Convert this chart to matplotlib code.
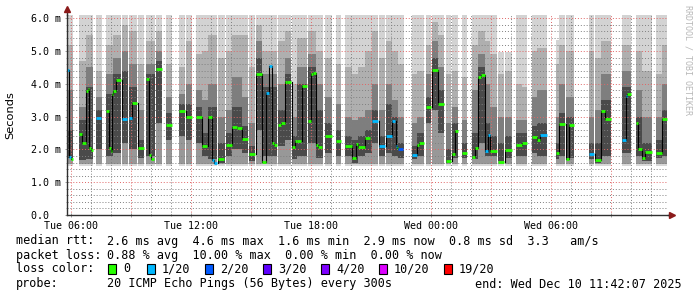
import numpy as np
import matplotlib.pyplot as plt
from matplotlib.ticker import MultipleLocator, FuncFormatter
from matplotlib.patches import Rectangle

# =====================================================================
# Data (hours since Tue 00:00, rtt in ms)
# =====================================================================
# smoke columns (periods with data)
strip_start = [5.80, 6.40, 6.75, 7.24, 7.74, 8.12, 8.54, 8.90, 9.37, 9.74,
               10.25, 10.75, 11.40, 11.74, 12.24, 12.55, 12.84, 13.37, 13.74, 14.04,
               14.54, 14.90, 15.25, 15.54, 16.37, 16.70, 17.04, 17.32, 17.87, 18.25,
               18.70, 19.24, 19.70, 20.04, 20.37, 20.70, 21.04, 21.40, 21.74, 22.04,
               22.37, 23.04, 23.29, 23.74, 24.04, 24.37, 24.74, 25.04, 25.54, 26.04,
               26.37, 26.70, 26.95, 27.37, 27.70, 28.24, 28.54, 29.04, 29.29, 30.24,
               30.38, 30.74, 31.90, 32.20, 32.50, 33.54, 34.24, 34.54, 35.24, 35.54]
strip_end = [6.10, 6.75, 7.12, 7.57, 8.12, 8.49, 8.87, 9.32, 9.67, 10.20,
             10.54, 11.04, 11.70, 12.04, 12.54, 12.84, 13.32, 13.70, 14.04, 14.54,
             14.84, 15.20, 15.54, 16.30, 16.70, 17.00, 17.32, 17.79, 18.25, 18.62,
             19.04, 19.50, 20.04, 20.37, 20.70, 21.04, 21.37, 21.70, 22.04, 22.37,
             22.67, 23.29, 23.67, 24.00, 24.34, 24.67, 25.00, 25.37, 25.82, 26.37,
             26.70, 26.95, 27.29, 27.67, 28.04, 28.54, 28.82, 29.29, 29.82, 30.38,
             30.70, 31.15, 32.17, 32.50, 33.00, 34.00, 34.54, 35.04, 35.54, 35.80]
# smoke levels per column: max, upper light/mid, mid/dark, dark band top, dark band bottom
smoke_max = [6.1, 6.1, 6.1, 6.1, 6.1, 6.1, 6.1, 6.1, 6.1, 6.1,
             6.1, 6.1, 6.1, 6.1, 6.1, 6.1, 6.1, 6.1, 6.1, 6.1,
             6.1, 6.1, 6.1, 6.1, 6.1, 6.1, 6.1, 6.1, 6.1, 6.1,
             6.1, 6.1, 6.1, 6.1, 6.1, 6.1, 6.1, 6.1, 6.1, 6.1,
             6.1, 6.1, 6.1, 6.1, 6.1, 6.1, 6.1, 6.1, 6.1, 6.1,
             6.1, 6.1, 6.1, 4.97, 4.97, 6.1, 6.1, 6.1, 6.1, 5.34,
             6.1, 6.1, 6.1, 6.1, 6.1, 6.1, 6.1, 6.1, 6.1, 6.1]
smoke_p90 = [5.2, 4.7, 5.5, 4.4, 5.2, 5.5, 5.8, 5.6, 4.6, 5.3,
             5.6, 4.6, 4.5, 5.3, 4.9, 5.0, 5.5, 4.8, 5.0, 5.5,
             5.5, 4.5, 5.8, 5.0, 5.3, 5.6, 4.0, 5.4, 5.6, 5.0,
             4.8, 4.6, 4.5, 4.3, 4.5, 5.0, 5.6, 4.8, 5.3, 5.0,
             4.6, 4.3, 4.4, 5.2, 5.9, 5.5, 4.3, 4.4, 4.2, 5.2,
             5.6, 5.3, 4.9, 4.3, 4.4, 4.0, 3.9, 5.0, 5.1, 4.6,
             5.2, 5.0, 5.0, 4.8, 5.3, 5.2, 5.0, 4.4, 4.3, 5.2]
smoke_p75 = [3.8, 3.3, 4.5, 3.6, 4.3, 4.8, 5.0, 4.6, 3.2, 4.6,
             5.0, 3.6, 3.7, 4.0, 3.8, 3.5, 4.0, 3.0, 3.2, 4.2,
             3.6, 2.8, 5.3, 4.3, 4.0, 4.8, 3.0, 4.5, 4.9, 4.0,
             3.6, 3.4, 3.0, 2.9, 3.0, 3.2, 4.0, 3.2, 4.0, 3.5,
             3.0, 2.8, 3.0, 4.3, 5.3, 4.5, 2.8, 3.3, 2.9, 3.8,
             4.9, 4.0, 3.3, 3.0, 3.0, 2.9, 2.9, 3.6, 3.8, 3.0,
             4.0, 3.6, 3.0, 3.2, 4.3, 4.4, 3.8, 3.0, 3.0, 4.0]
smoke_p60 = [2.6, 2.9, 3.9, 3.2, 3.7, 4.3, 4.4, 3.9, 2.3, 4.3,
             4.7, 3.1, 3.4, 3.4, 3.3, 2.5, 3.3, 2.2, 2.5, 3.3,
             2.7, 2.1, 4.8, 3.9, 3.2, 4.3, 2.4, 4.0, 4.5, 3.2,
             2.8, 2.6, 2.4, 2.3, 2.4, 2.6, 3.2, 2.4, 3.4, 3.0,
             2.2, 2.1, 2.5, 3.6, 4.8, 3.8, 2.0, 2.8, 2.2, 2.5,
             4.5, 2.8, 2.4, 2.2, 2.4, 2.5, 2.5, 2.7, 2.8, 2.2,
             3.1, 3.0, 2.2, 2.2, 3.5, 3.9, 3.0, 2.2, 2.3, 3.2]
smoke_p10 = [1.75, 1.67, 1.70, 2.00, 1.80, 1.90, 2.20, 2.00, 1.75, 1.80,
             2.80, 2.30, 2.40, 2.30, 2.20, 1.80, 1.70, 1.60, 1.80, 2.00,
             1.90, 1.65, 2.60, 1.80, 2.10, 2.30, 1.70, 1.80, 2.20, 1.75,
             1.90, 1.80, 1.80, 1.60, 1.80, 1.90, 2.20, 1.80, 1.90, 1.80,
             1.75, 1.70, 1.80, 2.80, 3.20, 2.50, 1.60, 1.75, 1.75, 1.70,
             2.20, 1.80, 1.80, 1.65, 1.75, 1.80, 1.80, 1.90, 1.80, 1.70,
             1.80, 1.75, 1.70, 1.60, 1.80, 1.90, 1.80, 1.65, 1.75, 1.80]
smoke_min = 1.55
smoke_fringe = 1.48

# median rtt segments and their packet loss (pings lost out of 20)
med_start = [5.80, 5.88, 5.98, 6.40, 6.55, 6.75, 6.83, 6.90, 6.98, 7.24,
             7.74, 7.90, 7.98, 8.03, 8.12, 8.23, 8.54, 8.90, 9.07, 9.37,
             9.74, 9.92, 10.00, 10.25, 10.75, 11.40, 11.74, 12.24, 12.55, 12.84,
             13.04, 13.15, 13.37, 13.74, 14.04, 14.28, 14.54, 14.90, 15.25, 15.54,
             15.73, 15.89, 16.03, 16.15, 16.37, 16.49, 16.70, 16.79, 17.04, 17.20,
             17.32, 17.54, 17.87, 17.99, 18.12, 18.25, 18.35, 18.70, 19.24, 19.70,
             20.04, 20.25, 20.37, 20.70, 21.04, 21.40, 21.74, 22.04, 22.23, 22.30,
             22.37, 23.04, 23.29, 23.40, 23.74, 24.04, 24.37, 24.74, 25.04, 25.20,
             25.54, 26.04, 26.20, 26.37, 26.49, 26.70, 26.83, 26.95, 27.37, 27.70,
             28.24, 28.54, 29.04, 29.29, 29.45, 30.24, 30.38, 30.74, 30.90, 31.90,
             32.20, 32.50, 32.70, 33.54, 33.75, 33.82, 34.24, 34.35, 34.54, 34.70,
             35.24, 35.54]
med_end = [5.88, 5.98, 6.10, 6.55, 6.75, 6.83, 6.90, 6.98, 7.12, 7.50,
           7.90, 7.98, 8.03, 8.12, 8.23, 8.49, 8.82, 9.07, 9.32, 9.65,
           9.92, 10.00, 10.17, 10.54, 11.04, 11.69, 12.04, 12.54, 12.79, 13.04,
           13.15, 13.32, 13.65, 14.04, 14.28, 14.54, 14.84, 15.20, 15.54, 15.73,
           15.89, 16.03, 16.15, 16.30, 16.49, 16.70, 16.79, 17.00, 17.20, 17.32,
           17.49, 17.79, 17.99, 18.12, 18.25, 18.35, 18.54, 19.04, 19.50, 20.04,
           20.25, 20.37, 20.70, 20.95, 21.37, 21.70, 22.04, 22.20, 22.30, 22.37,
           22.60, 23.29, 23.40, 23.67, 24.00, 24.34, 24.67, 25.00, 25.20, 25.37,
           25.82, 26.20, 26.34, 26.49, 26.70, 26.83, 26.95, 27.29, 27.67, 28.04,
           28.54, 28.82, 29.29, 29.45, 29.80, 30.38, 30.70, 30.90, 31.15, 32.17,
           32.50, 32.70, 33.00, 33.75, 33.82, 34.00, 34.35, 34.54, 34.70, 35.04,
           35.54, 35.80]
med_rtt = [4.41, 1.78, 1.70, 2.46, 2.20, 3.78, 3.84, 2.03, 1.98, 2.97,
           3.18, 2.03, 1.95, 3.68, 3.79, 4.13, 2.93, 2.96, 3.42, 2.03,
           4.16, 1.83, 1.72, 4.46, 2.76, 3.18, 3.00, 2.98, 2.11, 2.99,
           1.67, 1.60, 1.70, 2.14, 2.69, 2.65, 2.32, 1.85, 4.31, 1.62,
           3.72, 4.55, 2.20, 2.13, 2.73, 2.81, 4.05, 4.07, 2.08, 2.25,
           2.26, 3.93, 2.88, 4.29, 4.34, 2.12, 2.08, 2.42, 2.25, 2.09,
           1.75, 2.18, 2.08, 2.35, 2.88, 2.10, 2.42, 2.88, 2.10, 2.05,
           2.00, 1.83, 2.14, 2.20, 3.29, 4.43, 3.38, 1.65, 1.87, 2.55,
           1.88, 1.76, 2.04, 4.20, 4.27, 1.96, 2.45, 1.96, 1.62, 1.98,
           2.14, 2.20, 2.38, 2.28, 2.45, 1.90, 2.77, 1.72, 2.75, 1.85,
           1.68, 3.18, 2.93, 2.28, 3.63, 3.69, 2.81, 2.02, 1.75, 1.93,
           1.89, 2.94]
med_loss = [1, 1, 0, 0, 0, 0, 0, 0, 0, 1,
            0, 0, 0, 0, 0, 0, 1, 1, 0, 0,
            0, 0, 0, 0, 0, 0, 0, 0, 0, 0,
            1, 1, 0, 0, 0, 0, 0, 0, 0, 0,
            1, 1, 0, 0, 0, 0, 0, 0, 0, 0,
            0, 0, 0, 0, 0, 0, 0, 0, 0, 0,
            0, 0, 0, 0, 1, 1, 1, 1, 1, 0,
            2, 1, 0, 0, 0, 0, 0, 0, 0, 0,
            0, 0, 0, 0, 0, 1, 1, 0, 0, 0,
            0, 0, 0, 0, 1, 0, 0, 0, 0, 1,
            0, 0, 0, 1, 1, 0, 0, 0, 0, 0,
            0, 0]

loss_levels = [0, 1, 2, 3, 4, 10, 19]
loss_labels = ['0', '1/20', '2/20', '3/20', '4/20', '10/20', '19/20']
loss_colors = ['#26ff00', '#00b8ff', '#0059ff', '#5e00ff', '#7e00ff', '#dd00ff', '#ff0000']

tick_hours = [6, 12, 18, 24, 30]
tick_names = ['Tue 06:00', 'Tue 12:00', 'Tue 18:00', 'Wed 00:00', 'Wed 06:00']

stats_rtt = '2.6 ms avg  4.6 ms max  1.6 ms min  2.9 ms now  0.8 ms sd  3.3   am/s'
stats_loss = '0.88 % avg  10.00 % max  0.00 % min  0.00 % now'
probe_text = '20 ICMP Echo Pings (56 Bytes) every 300s'
end_text = 'end: Wed Dec 10 11:42:07 2025'

# =====================================================================
# Figure
# =====================================================================
W, H = 697, 297
MONO = 'DejaVu Sans Mono'
fig = plt.figure(figsize=(W / 100, H / 100), dpi=100)
fig.patch.set_facecolor('white')
ax = fig.add_axes([67 / W, 82 / H, 601 / W, 200 / H])
ax.set_xlim(5.8, 35.85)
ax.set_ylim(0, 6.1)

# smoke: stacked grey bands per column
x0 = np.array(strip_start)
wd = np.array(strip_end) - x0
n = len(x0)
top = np.array(smoke_max)
levels = [np.full(n, smoke_fringe), np.full(n, smoke_min), np.array(smoke_p10),
          np.array(smoke_p60), np.array(smoke_p75), np.minimum(smoke_p90, top), top]
shades = ['#d8d8d8', '#989898', '#4a4a4a', '#7e7e7e', '#afafaf', '#d3d3d3']
for lo, hi, c in zip(levels[:-1], levels[1:], shades):
    ax.bar(x0, hi - lo, width=wd, bottom=lo, align='edge', color=c,
           linewidth=0, zorder=1)

# median: black connectors + coloured dashes by loss
ms = np.array(med_start)
me = np.array(med_end)
mv = np.array(med_rtt)
for i in range(len(ms) - 1):
    if ms[i + 1] - me[i] < 0.06:
        ax.plot([ms[i + 1], ms[i + 1]], [mv[i], mv[i + 1]], color='black',
                lw=0.8, zorder=3)
color_of = dict(zip(loss_levels, loss_colors))
for s, e, v, l in zip(ms, me, mv, med_loss):
    ax.plot([s, e], [v, v], color=color_of[l], lw=2.0, solid_capstyle='butt',
            zorder=4)

# grid
ax.xaxis.set_major_locator(MultipleLocator(3))
ax.xaxis.set_minor_locator(MultipleLocator(1))
ax.yaxis.set_major_locator(MultipleLocator(1))
ax.yaxis.set_minor_locator(MultipleLocator(0.2))
ax.set_axisbelow(False)
ax.grid(which='minor', color=(0.5, 0.5, 0.5, 0.28), linestyle=(0, (1, 2)), lw=0.7)
ax.grid(which='major', color=(0.88, 0.4, 0.4, 0.5), linestyle=(0, (1, 2)), lw=0.7)

names = dict(zip(tick_hours, tick_names))
ax.xaxis.set_major_formatter(FuncFormatter(lambda v, p: names.get(int(round(v)), '')))
ax.yaxis.set_major_formatter(FuncFormatter(lambda v, p: '0.0  ' if v == 0 else f'{v:.1f} m'))
ax.tick_params(which='both', direction='inout', color='#909090', labelsize=7.2,
               labelcolor='black', width=0.6)
ax.tick_params(which='major', length=3, pad=3)
ax.tick_params(which='minor', length=2)
for lab in ax.get_xticklabels() + ax.get_yticklabels():
    lab.set_family(MONO)

for side in ['top', 'right']:
    ax.spines[side].set_visible(False)
for side in ['left', 'bottom']:
    ax.spines[side].set_color('#303030')
    ax.spines[side].set_linewidth(1.0)
    ax.spines[side].set_zorder(5)

# axis arrows
ax.plot([0, 0], [1, 1.03], color='#303030', lw=1, transform=ax.transAxes, clip_on=False)
ax.plot([0], [1.03], marker='^', ms=4, color='#8b1a1a', transform=ax.transAxes, clip_on=False)
ax.plot([1, 1.006], [0, 0], color='#303030', lw=1, transform=ax.transAxes, clip_on=False)
ax.plot([1.006], [0], marker='>', ms=4, color='#8b1a1a', transform=ax.transAxes, clip_on=False)

# labels
fig.text(10 / W, 1 - 115 / H, 'Seconds', rotation=90, ha='center', va='center',
         fontsize=8.2, family='DejaVu Sans')
fig.text(688 / W, 1 - 60 / H, 'RRDTOOL / TOBI OETIKER', rotation=270, ha='center',
         va='center', fontsize=6, family=MONO, color='#b8b8b8')

# legend lines
def px(x, y):
    return x / W, 1 - y / H

fs = 8.5
fig.text(*px(16, 241), 'median rtt:', fontsize=fs, family=MONO, va='center')
fig.text(*px(107, 241), stats_rtt, fontsize=fs, family=MONO, va='center')
fig.text(*px(16, 255), 'packet loss:', fontsize=fs, family=MONO, va='center')
fig.text(*px(107, 255), stats_loss, fontsize=fs, family=MONO, va='center')
fig.text(*px(16, 269), 'loss color:', fontsize=fs, family=MONO, va='center')
box_x = [108, 147, 205, 263, 321, 379, 444]
for bx, lab, col in zip(box_x, loss_labels, loss_colors):
    fig.patches.append(Rectangle(px(bx, 274), 8 / W, 10 / H, transform=fig.transFigure,
                                 facecolor=col, edgecolor='black', lw=0.8))
    fig.text(*px(bx + 15, 269), lab, fontsize=fs, family=MONO, va='center')
fig.text(*px(16, 284), 'probe:', fontsize=fs, family=MONO, va='center')
fig.text(*px(107, 284), probe_text, fontsize=fs, family=MONO, va='center')
fig.text(*px(682, 284), end_text, fontsize=fs, family=MONO, va='center', ha='right')

fig.savefig('out.png', dpi=100, facecolor='white')
